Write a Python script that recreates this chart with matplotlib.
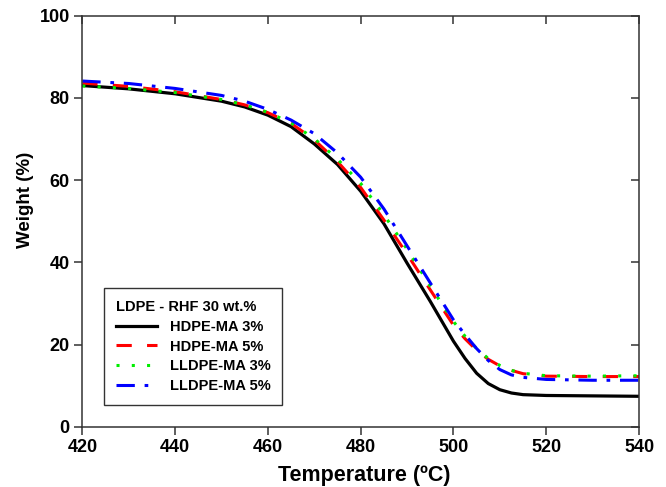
import numpy as np
import matplotlib
matplotlib.use("Agg")
import matplotlib.pyplot as plt

plt.rcParams['font.family'] = ['Liberation Sans', 'DejaVu Sans']
plt.rcParams['font.weight'] = 'bold'

# temperature (C)
temp = [420, 430, 440, 450, 455, 460, 465, 470, 475, 480, 485, 490, 495,
        500, 502.5, 505, 507.5, 510, 512.5, 515, 520, 530, 540]

# weight (%)
hdpe_ma3 = [83.0, 82.2, 81.0, 79.2, 77.8, 75.8, 73.0, 68.8, 63.8, 57.3, 49.4, 39.8, 30.5,
            20.8, 16.6, 13.0, 10.5, 9.0, 8.2, 7.8, 7.6, 7.5, 7.4]
hdpe_ma5 = [83.6, 82.8, 81.5, 79.6, 78.3, 76.4, 73.8, 69.8, 64.5, 58.2, 50.3, 42.0, 33.3,
            24.7, 21.4, 18.6, 16.4, 14.8, 13.7, 12.9, 12.3, 12.2, 12.2]
lldpe_ma3 = [82.9, 82.3, 81.3, 79.6, 78.3, 76.5, 73.9, 70.1, 65.1, 59.2, 51.6, 43.2, 34.2,
             25.6, 22.0, 19.0, 16.6, 14.9, 13.7, 13.0, 12.4, 12.3, 12.4]
lldpe_ma5 = [84.1, 83.5, 82.3, 80.6, 79.2, 77.2, 74.6, 71.3, 66.6, 60.7, 53.0, 44.0, 35.0,
             26.0, 22.4, 19.0, 16.1, 13.9, 12.6, 12.0, 11.5, 11.3, 11.3]

fig = plt.figure(figsize=(6.66, 4.87), dpi=100)
ax = fig.add_axes([0.1236, 0.1238, 0.8359, 0.8440])

ax.plot(temp, hdpe_ma3, color='black', lw=2.3, label='HDPE-MA 3%')
ax.plot(temp, hdpe_ma5, color='red', lw=2.2, dashes=(5, 5), label='HDPE-MA 5%')
ax.plot(temp, lldpe_ma3, color='#00ee00', lw=2.2, dashes=(1, 4), label='LLDPE-MA 3%')
ax.plot(temp, lldpe_ma5, color='blue', lw=2.2, dashes=(6, 3.2, 1.2, 3.2), label='LLDPE-MA 5%')

ax.set_xlim(420, 540)
ax.set_ylim(0, 100)
ax.set_xticks(np.arange(420, 541, 20))
ax.set_yticks(np.arange(0, 101, 20))

for s in ax.spines.values():
    s.set_linewidth(1.1)
    s.set_color('#333333')

ax.tick_params(axis='both', which='major', length=6, width=1.1, color='#333333',
               labelsize=13, pad=3)
ax.tick_params(axis='x', top=True, direction='out')
ax.tick_params(axis='y', right=True, direction='out')
# top and right ticks point in
for t in ax.xaxis.get_major_ticks():
    t.tick2line.set_marker(matplotlib.lines.TICKDOWN)
for t in ax.yaxis.get_major_ticks():
    t.tick2line.set_marker(matplotlib.lines.TICKLEFT)

ax.set_xlabel('Temperature (ºC)', fontsize=15.5, fontweight='bold')
ax.set_ylabel('Weight (%)', fontsize=13.5, fontweight='bold')
ax.xaxis.set_label_coords(0.506, -0.094)
ax.yaxis.set_label_coords(-0.086, 0.552)

leg = ax.legend(title='LDPE - RHF 30 wt.%', loc='lower left',
                bbox_to_anchor=(0.039, 0.053), borderaxespad=0,
                fancybox=False, edgecolor='#333333', framealpha=1,
                prop={'size': 10.5, 'weight': 'bold'},
                title_fontproperties={'size': 10.5, 'weight': 'bold'},
                alignment='left', handlelength=2.8, handletextpad=0.9,
                borderpad=0.8, labelspacing=0.4)
leg.get_frame().set_linewidth(1.0)

fig.savefig('out.png', dpi=100)
